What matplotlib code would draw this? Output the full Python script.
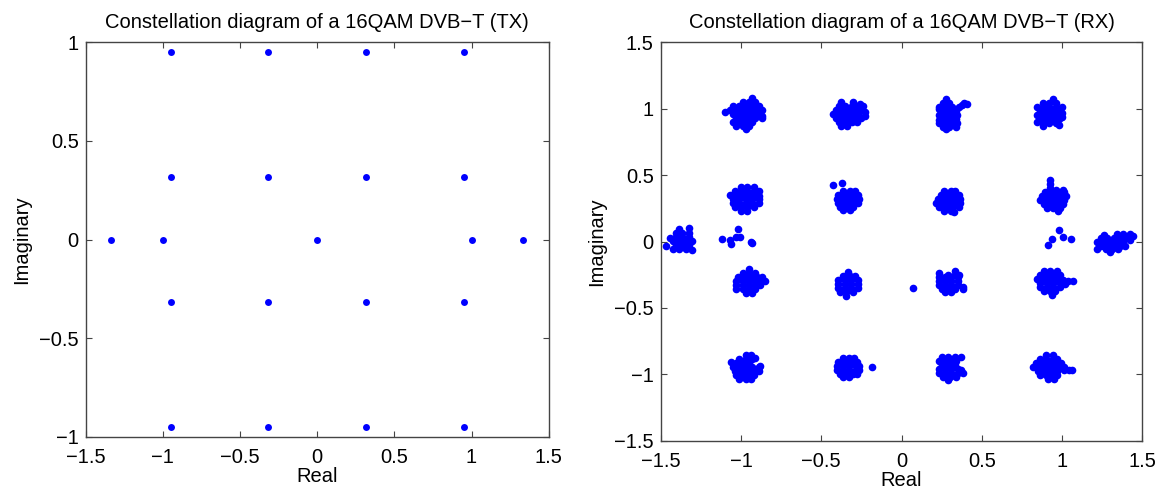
import numpy as np
import matplotlib
matplotlib.use("Agg")
import matplotlib.pyplot as plt

plt.rcParams['font.family'] = ['Liberation Sans', 'DejaVu Sans']

# --- transmitted symbols: 16QAM grid plus the boosted pilots on the real axis ---
tx_real = [-0.949, -0.316, 0.316, 0.949] * 4 + [-1.333, -1.0, 0.0, 1.0, 1.333]
tx_imag = ([0.949] * 4 + [0.316] * 4 + [-0.316] * 4 + [-0.949] * 4
           + [0.0, 0.0, 0.0, 0.0, 0.0])

# --- received symbols: cluster centres and the points around each one ---
# offsets are in hundredths (0.01) of a unit
rx_centers = [
    (-0.970, 0.957), (-0.330, 0.957), (0.296, 0.945), (0.921, 0.960),
    (-0.980, 0.322), (-0.333, 0.310), (0.295, 0.300), (0.944, 0.310),
    (-0.950, -0.300), (-0.333, -0.317), (0.290, -0.300), (0.925, -0.300),
    (-0.970, -0.945), (-0.335, -0.949), (0.300, -0.950), (0.920, -0.945),
    (-1.375, 0.005), (1.330, 0.000),
]

rx_offsets = [
    # row 1
    [(-2, 9), (2, 9), (6, 9), (4, 12),
     (-8, 6), (-4, 6), (0, 6), (4, 6), (8, 6),
     (-13, 2), (-10, 3), (-6, 3), (-2, 3), (2, 3), (6, 3), (10, 3),
     (-8, 0), (-4, 0), (0, 0), (4, 0), (8, 0), (10, -1),
     (-6, -3), (-2, -3), (2, -3), (6, -3), (10, -3),
     (-8, -6), (-4, -6), (0, -6), (4, -6),
     (-6, -9), (-2, -9), (2, -9), (0, -11)],
    [(-5, 9), (3, 9), (7, 8),
     (-6, 6), (-2, 6), (2, 6), (6, 6), (9, 6),
     (-8, 3), (-4, 3), (0, 3), (4, 3), (8, 3), (10, 2),
     (-10, 0), (-6, 0), (-2, 0), (2, 0), (6, 0), (10, -1),
     (-8, -3), (-4, -3), (0, -3), (4, -3), (8, -3),
     (-6, -6), (-2, -6), (2, -6), (5, -6),
     (-5, -9), (-1, -9)],
    [(-2, 13),
     (-4, 10), (0, 10), (9, 10), (11, 9),
     (-6, 7), (-2, 7), (2, 7), (6, 7), (8, 8),
     (-4, 4), (0, 4), (4, 4), (-6, 5),
     (-6, 1), (-2, 1), (2, 1), (5, 1),
     (-4, -2), (0, -2), (4, -2), (-6, -3),
     (-6, -5), (-2, -5), (2, -5), (5, -5),
     (-4, -8), (0, -8), (4, -8), (-2, -10)],
    [(2, 11),
     (-4, 8), (0, 8), (4, 8),
     (-8, 5), (-4, 5), (0, 5), (4, 5), (8, 5),
     (-6, 2), (-2, 2), (2, 2), (6, 2), (8, 1),
     (-8, -1), (-4, -1), (0, -1), (4, -1), (8, -2),
     (-6, -4), (-2, -4), (2, -4), (6, -4),
     (-8, -6), (-4, -7), (0, -7), (4, -7), (6, -8),
     (-4, -9)],
    # row 2
    [(-2, 9), (2, 9), (6, 9),
     (-6, 6), (-2, 6), (2, 6), (6, 6), (9, 6),
     (-9, 3), (-5, 3), (-1, 3), (3, 3), (7, 3), (9, 2),
     (-7, 0), (-3, 0), (1, 0), (5, 0), (9, 0),
     (-7, -3), (-3, -3), (1, -3), (5, -3), (9, -3),
     (-6, -6), (-2, -6), (2, -6), (6, -6),
     (-2, -9), (2, -9)],
    [(-3, 7), (1, 7), (4, 7),
     (-6, 4), (-2, 4), (2, 4), (6, 4),
     (-7, 1), (-3, 1), (1, 1), (5, 1), (7, 1),
     (-6, -2), (-2, -2), (2, -2), (6, -2),
     (-5, -5), (-1, -5), (3, -5),
     (-3, -7), (1, -7)],
    [(-3, 8), (1, 8), (4, 8),
     (-5, 5), (-1, 5), (3, 5), (6, 5),
     (-7, 2), (-3, 2), (1, 2), (5, 2), (7, 2),
     (-8, -1), (-4, -1), (0, -1), (4, -1), (7, -1),
     (-6, -4), (-2, -4), (2, -4), (6, -4),
     (-3, -7), (1, -7), (3, -8)],
    [(-2, 15), (-2, 12),
     (-2, 9), (2, 8), (6, 8),
     (-5, 6), (-1, 6), (3, 6), (7, 6),
     (-7, 3), (-3, 3), (1, 3), (5, 3), (8, 3),
     (-8, 0), (-4, 0), (0, 0), (4, 0), (7, 0),
     (-6, -3), (-2, -3), (2, -3), (6, -3),
     (-4, -6), (0, -6), (4, -6), (3, -8)],
    # row 3
    [(0, 9),
     (-4, 6), (0, 6), (4, 6),
     (-7, 3), (-3, 3), (1, 3), (5, 3), (8, 3),
     (-8, 0), (-4, 0), (0, 0), (4, 0), (8, 0), (10, 0),
     (-8, -3), (-4, -3), (0, -3), (4, -3), (7, -3),
     (-8, -6), (-4, -6), (0, -6), (4, -6),
     (-2, -9), (2, -9)],
    [(0, 9),
     (-3, 6), (1, 6), (4, 6),
     (-6, 3), (-2, 3), (2, 3), (6, 3),
     (-6, 0), (-2, 0), (2, 0), (6, 0),
     (-6, -3), (-2, -3), (2, -3), (6, -3),
     (-5, -6), (-1, -6), (3, -6),
     (-1, -9)],
    [(4, 8),
     (-6, 6), (0, 5), (4, 5), (7, 5),
     (-6, 3), (-2, 3), (2, 3), (6, 3),
     (-6, 0), (-2, 0), (2, 0), (6, 0),
     (-6, -3), (-2, -3), (2, -3), (6, -3), (9, -4),
     (-4, -6), (0, -6), (4, -6), (9, -6),
     (-2, -8), (2, -8)],
    [(-4, 8), (0, 8), (4, 8),
     (-6, 5), (-2, 5), (2, 5), (6, 5),
     (-8, 2), (-4, 2), (0, 2), (4, 2), (8, 1), (11, 0), (14, 0),
     (-6, -1), (-2, -1), (2, -1), (6, -1), (9, -2),
     (-6, -4), (-2, -4), (2, -4), (6, -4),
     (-4, -7), (0, -7), (3, -7), (1, -10)],
    # row 4
    [(0, 9), (3, 9),
     (-4, 6), (0, 6), (4, 6), (6, 7),
     (-9, 4), (-6, 3), (-2, 3), (2, 3),
     (-8, 0), (-4, 0), (0, 0), (4, 0), (8, 0), (9, 1),
     (-7, -3), (-3, -3), (1, -3), (5, -3), (8, -3),
     (-6, -6), (-2, -6), (2, -6), (5, -6),
     (-4, -9), (0, -9), (3, -9)],
    [(-3, 7), (1, 7), (4, 7),
     (-6, 4), (-2, 4), (2, 4), (6, 4),
     (-7, 1), (-3, 1), (1, 1), (5, 1), (7, 1),
     (-7, -2), (-3, -2), (1, -2), (5, -2), (7, -2),
     (-5, -5), (-1, -5), (3, -5), (6, -5),
     (-3, -7), (1, -7)],
    [(-5, 8), (-1, 8), (3, 8), (7, 8),
     (-7, 5), (-3, 5), (1, 5), (4, 5),
     (-5, 2), (-1, 2), (3, 2),
     (-7, -1), (-3, -1), (1, -1), (5, -1), (7, -2),
     (-7, -4), (-3, -4), (1, -4), (5, -4), (8, -4),
     (-4, -7), (0, -7), (4, -7), (-1, -9)],
    [(-2, 9), (2, 9),
     (-6, 6), (-2, 6), (2, 6), (5, 6),
     (-8, 3), (-4, 3), (0, 3), (4, 3), (7, 3),
     (-10, 0), (-6, 0), (-2, 0), (2, 0), (6, 0), (9, 0),
     (-7, -3), (-3, -3), (1, -3), (5, -3), (9, -2), (12, -2), (14, -2),
     (-6, -6), (-2, -6), (2, -6), (5, -6),
     (-1, -9), (3, -9)],
    # pilots
    [(-1, 9), (5, 10),
     (-3, 6), (1, 6), (5, 6),
     (-7, 2), (-3, 3), (1, 3), (5, 3),
     (-5, 0), (-1, 0), (3, 0), (7, 0),
     (-9, -4), (-3, -3), (1, -3), (5, -3),
     (-5, -6), (-1, -6), (3, -6), (7, -7)],
    [(-7, 5), (1, 6), (5, 6), (9, 6),
     (-9, 3), (-5, 3), (-1, 3), (3, 3), (7, 3), (11, 4),
     (-11, 0), (-7, 0), (-3, 0), (1, 0), (5, 0), (9, 1),
     (-9, -3), (-5, -3), (-1, -3), (3, -3), (6, -3),
     (-11, -6), (-6, -6), (-2, -6), (2, -6), (-3, -8)],
]

# isolated received points away from the clusters
rx_stray_real = [-1.118, -1.069, -1.064, -1.017, -1.006, -1.031, -0.940, -0.934,
                 0.978, 1.003, 0.935, 0.913, 1.055, 0.073, -0.187,
                 -0.424, -0.373]
rx_stray_imag = [0.019, 0.011, -0.021, 0.092, 0.036, 0.032, 0.000, -0.014,
                 0.087, 0.036, 0.017, -0.026, 0.017, -0.352, -0.947,
                 0.425, 0.438]

rx_real = [cx + dx / 100 for (cx, cy), pts in zip(rx_centers, rx_offsets) for dx, dy in pts]
rx_imag = [cy + dy / 100 for (cx, cy), pts in zip(rx_centers, rx_offsets) for dx, dy in pts]
rx_real = np.array(rx_real + rx_stray_real)
rx_imag = np.array(rx_imag + rx_stray_imag)

AX_COLOR = '#444444'
BLUE = '#0000ff'


def style_axes(ax, ylim, yticks):
    ax.set_xlim(-1.5, 1.5)
    ax.set_ylim(*ylim)
    ax.set_xticks([-1.5, -1, -0.5, 0, 0.5, 1, 1.5])
    ax.set_xticklabels(['\u22121.5', '\u22121', '\u22120.5', '0', '0.5', '1', '1.5'])
    ax.set_yticks(yticks)
    ax.set_yticklabels([('\u2212' + f'{abs(v):g}') if v < 0 else f'{v:g}' for v in yticks])
    ax.tick_params(direction='in', top=True, right=True, length=4.5, width=0.8,
                   color=AX_COLOR, labelsize=14.5)
    ax.tick_params(axis='x', pad=8)
    ax.tick_params(axis='y', pad=5)
    for s in ax.spines.values():
        s.set_color(AX_COLOR)
        s.set_linewidth(1.0)
    ax.set_xlabel('Real', fontsize=14.5, labelpad=0)
    ax.set_ylabel('Imaginary', fontsize=14.5, labelpad=6)


fig = plt.figure(figsize=(11.64, 4.91), dpi=100)

ax_tx = fig.add_axes([0.0736, 0.110, 0.3978, 0.8039])
ax_tx.plot(tx_real, tx_imag, linestyle='none', marker='o', markersize=5.0,
           markeredgewidth=0, color=BLUE)
style_axes(ax_tx, (-1, 1), [-1, -0.5, 0, 0.5, 1])
ax_tx.set_title('Constellation diagram of a 16QAM DVB\u2212T (TX)', fontsize=14.5, pad=10)

ax_rx = fig.add_axes([0.5676, 0.1024, 0.4139, 0.8114])
ax_rx.plot(rx_real, rx_imag, linestyle='none', marker='o', markersize=5.5,
           markeredgewidth=0, color=BLUE)
style_axes(ax_rx, (-1.5, 1.5), [-1.5, -1, -0.5, 0, 0.5, 1, 1.5])
ax_rx.set_title('Constellation diagram of a 16QAM DVB\u2212T (RX)', fontsize=14.5, pad=10)

fig.savefig('out.png', dpi=100)
